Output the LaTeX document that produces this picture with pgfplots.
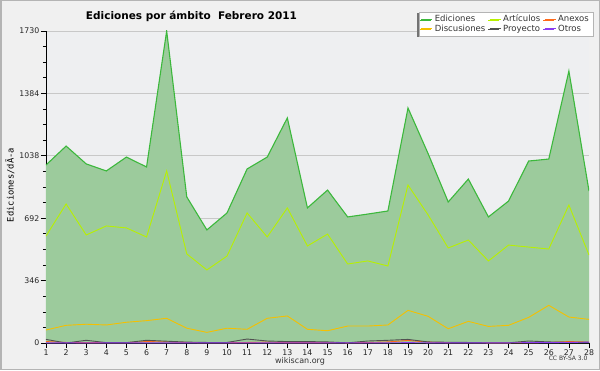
\documentclass[border=0pt]{standalone}
\usepackage{fontspec}
\setmainfont{DejaVu Sans}
\newfontfamily\monofont{DejaVu Sans Mono}
\usepackage{pgfplots}
\pgfplotsset{compat=1.18}
\usetikzlibrary{shadows}
\definecolor{outerbg}{HTML}{F0F0F0}
\definecolor{bordercol}{HTML}{B4B4B4}
\definecolor{plotbg}{HTML}{EEEFF1}
\definecolor{gridcol}{HTML}{C8C8C8}
\definecolor{edfill}{HTML}{9CCB9C}
\definecolor{edline}{HTML}{3CB83C}
\definecolor{artcol}{HTML}{B8F000}
\definecolor{discol}{HTML}{F5C000}
\definecolor{anxcol}{HTML}{FF6A1A}
\definecolor{procol}{HTML}{505050}
\definecolor{otrcol}{HTML}{8A3CF0}
\definecolor{lgtext}{HTML}{333333}
\begin{document}
\begin{tikzpicture}[x=1pt,y=1pt]
\fill[outerbg] (0,0) rectangle (600,370);
\draw[bordercol, line width=1.5pt] (0.75,0.75) rectangle (599.25,369.25);
\begin{axis}[
  at={(46pt,27pt)}, anchor=south west,
  scale only axis, width=543pt, height=312pt,
  xmin=1, xmax=28, ymin=0, ymax=1730,
  axis x line=bottom, axis y line=left,
  axis line style={-, black, line width=0.8pt},
  axis background/.style={fill=plotbg},
  xtick={1,...,28},
  ytick={0,346,692,1038,1384,1730},
  minor y tick num=3,
  tick align=outside,
  major tick length=5pt, minor tick length=3pt,
  tick style={black, line width=0.6pt},
  ymajorgrids, grid style={gridcol, line width=0.8pt},
  ticklabel style={font=\fontsize{7.8}{8}\selectfont, text=black!85},
  /pgf/number format/assume math mode=true,
  /pgf/number format/1000 sep={},
  xticklabel style={inner sep=1.5pt},
  yticklabel style={inner sep=1.5pt},
  legend columns=3,
  legend cell align=left,
  legend style={at={(rel axis cs:1.0074,1.061)}, anchor=north east,
    draw=bordercol, fill=white, font=\fontsize{8.5}{9}\selectfont,
    drop shadow={shadow xshift=-1.6pt, shadow yshift=-0.8pt, fill=black!55, opacity=1},
    inner xsep=2pt, inner ysep=1pt, row sep=-2.5pt,
    /tikz/every even column/.append style={column sep=2pt}},
  legend image code/.code={\draw[#1, line width=0.9pt] (0pt,0pt) -- (11pt,0pt);},
]
\addplot[fill=edfill, draw=none, forget plot] coordinates {
(1,987)(2,1092)(3,993)(4,954)(5,1031)(6,976)(7,1730)(8,810)(9,627)(10,721)(11,965)(12,1031)(13,1248)(14,749)(15,848)(16,699)(17,715)(18,732)(19,1303)(20,1050)(21,782)(22,909)(23,699)(24,787)(25,1009)(26,1020)(27,1508)(28,843)
} \closedcycle;
\addplot[edline, line width=1.1pt] coordinates {
(1,987)(2,1092)(3,993)(4,954)(5,1031)(6,976)(7,1730)(8,810)(9,627)(10,721)(11,965)(12,1031)(13,1248)(14,749)(15,848)(16,699)(17,715)(18,732)(19,1303)(20,1050)(21,782)(22,909)(23,699)(24,787)(25,1009)(26,1020)(27,1508)(28,843)
};
\addlegendentry{\textcolor{lgtext}{Ediciones}}
\addplot[artcol, line width=0.9pt] coordinates {
(1,593)(2,771)(3,599)(4,649)(5,638)(6,588)(7,954)(8,494)(9,405)(10,482)(11,721)(12,588)(13,749)(14,538)(15,604)(16,438)(17,455)(18,427)(19,876)(20,710)(21,527)(22,571)(23,455)(24,543)(25,532)(26,521)(27,765)(28,488)
};
\addlegendentry{\textcolor{lgtext}{Artículos}}
\addplot[anxcol, line width=0.9pt] coordinates {
(1,8)(2,3)(3,2)(4,2)(5,2)(6,8)(7,6)(8,3)(9,2)(10,2)(11,3)(12,5)(13,2)(14,2)(15,2)(16,1)(17,3)(18,6)(19,14)(20,5)(21,2)(22,2)(23,1)(24,1)(25,2)(26,3)(27,8)(28,5)
};
\addlegendentry{\textcolor{lgtext}{Anexos}}
\addplot[discol, line width=0.9pt] coordinates {
(1,72)(2,98)(3,104)(4,100)(5,115)(6,124)(7,137)(8,82)(9,59)(10,82)(11,76)(12,137)(13,150)(14,76)(15,68)(16,94)(17,94)(18,100)(19,181)(20,148)(21,79)(22,120)(23,92)(24,98)(25,142)(26,209)(27,144)(28,131)
};
\addlegendentry{\textcolor{lgtext}{Discusiones}}
\addplot[procol, line width=0.9pt] coordinates {
(1,20)(2,0)(3,15)(4,2)(5,2)(6,15)(7,10)(8,5)(9,3)(10,3)(11,22)(12,11)(13,8)(14,8)(15,6)(16,1)(17,11)(18,15)(19,20)(20,6)(21,4)(22,3)(23,1)(24,1)(25,11)(26,6)(27,4)(28,3)
};
\addlegendentry{\textcolor{lgtext}{Proyecto}}
\addplot[otrcol, line width=0.9pt] coordinates {
(1,1)(2,1)(3,1)(4,1)(5,1)(6,1)(7,1)(8,1)(9,1)(10,1)(11,1)(12,1)(13,1)(14,1)(15,1)(16,1)(17,1)(18,1)(19,2)(20,1)(21,1)(22,1)(23,1)(24,1)(25,2)(26,2)(27,3)(28,5)
};
\addlegendentry{\textcolor{lgtext}{Otros}}
\end{axis}
\node[font=\bfseries\fontsize{10.5}{12}\selectfont] at (191.5,354) {Ediciones por ámbito\ \ Febrero 2011};
\node[rotate=90, font=\monofont\fontsize{8.8}{9}\selectfont] at (10,185) {Ediciones/dÃ-a};
\node[font=\fontsize{8}{9}\selectfont, text=black!80] at (300,9) {wikiscan.org};
\node[font=\fontsize{6}{7}\selectfont, text=black!80, anchor=east] at (591,12) {CC BY-SA 3.0};
\end{tikzpicture}
\end{document}
